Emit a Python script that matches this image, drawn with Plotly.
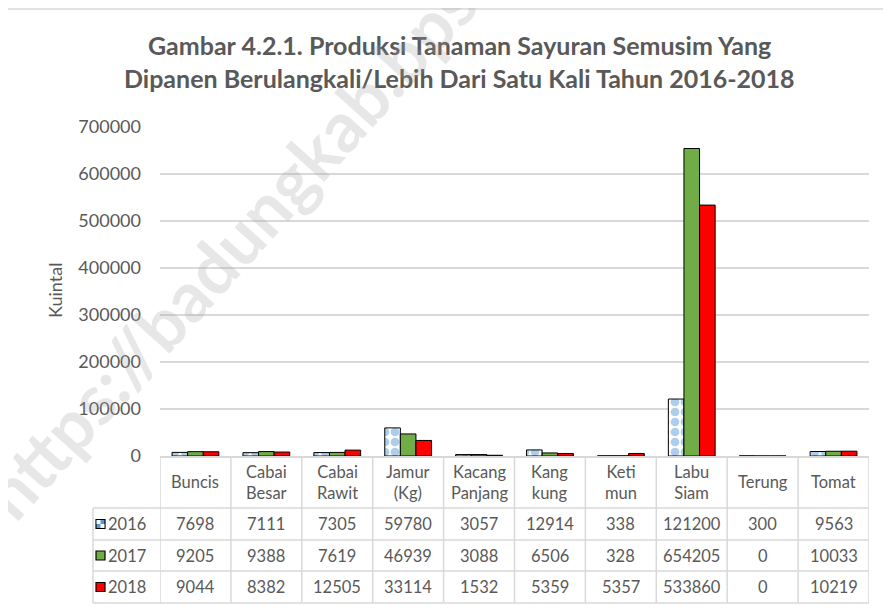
import plotly.graph_objects as go

categories = ["Buncis", "Cabai Besar", "Cabai Rawit", "Jamur (Kg)", "Kacang Panjang",
              "Kang kung", "Keti mun", "Labu Siam", "Terung", "Tomat"]
cat_labels = ["Buncis", "Cabai<br>Besar", "Cabai<br>Rawit", "Jamur<br>(Kg)", "Kacang<br>Panjang",
              "Kang<br>kung", "Keti<br>mun", "Labu<br>Siam", "Terung", "Tomat"]
years = ["2016", "2017", "2018"]
v2016 = [7698, 7111, 7305, 59780, 3057, 12914, 338, 121200, 300, 9563]
v2017 = [9205, 9388, 7619, 46939, 3088, 6506, 328, 654205, 0, 10033]
v2018 = [9044, 8382, 12505, 33114, 1532, 5359, 5357, 533860, 0, 10219]
y_ticks = [0, 100000, 200000, 300000, 400000, 500000, 600000, 700000]

title1 = "Gambar 4.2.1. Produksi Tanaman Sayuran Semusim Yang"
title2 = "Dipanen Berulangkali/Lebih Dari Satu Kali Tahun 2016-2018"
y_title = "Kuintal"
watermark = "https://badungkab.bps.go.id"

FONT = "Lato"
TXT = "#595959"
GRID = "#D9D9D9"

OFF = 8  # page body margin
W, H = 891 - OFF, 611 - OFF
L, R, T, B = 160 - OFF, 22, 127 - OFF, 155
PW, PH = W - L - R, H - T - B


def px(p):
    return (p - OFF - L) / PW


def py(p):
    return (H - B - (p - OFF)) / PH


fig = go.Figure()
fig.add_bar(x=categories, y=v2016, name=years[0],
            marker=dict(color="white", line=dict(color="black", width=1),
                        pattern=dict(shape=".", fgcolor="#5B9BD5", bgcolor="white",
                                     size=10, solidity=0.6)))
fig.add_bar(x=categories, y=v2017, name=years[1],
            marker=dict(color="#70AD47", line=dict(color="black", width=1)))
fig.add_bar(x=categories, y=v2018, name=years[2],
            marker=dict(color="#FF0000", line=dict(color="black", width=1)))

shapes = []
ann = []

# outer border
shapes.append(dict(type="rect", xref="paper", yref="paper",
                   x0=px(5), x1=px(900), y0=py(9), y1=py(620),
                   line=dict(color=GRID, width=1.5), fillcolor="rgba(0,0,0,0)", layer="below"))

# table lines
row_edges = [508, 540, 571, 603]
for r in row_edges:
    shapes.append(dict(type="line", xref="paper", yref="paper",
                       x0=px(93), x1=1, y0=py(r), y1=py(r),
                       line=dict(color=GRID, width=1.5)))
n = len(categories)
for k in range(n + 1):
    xk = k - 0.5
    shapes.append(dict(type="line", xref="x", yref="paper",
                       x0=xk, x1=xk, y0=0, y1=py(603),
                       line=dict(color=GRID, width=1.5)))
shapes.append(dict(type="line", xref="paper", yref="paper",
                   x0=px(93), x1=px(93), y0=py(508), y1=py(603),
                   line=dict(color=GRID, width=1.5)))

TS = 16.5
# category header
for i, lab in enumerate(cat_labels):
    ann.append(dict(x=i, y=py(482), xref="x", yref="paper", text=lab, showarrow=False,
                    xanchor="center", yanchor="middle",
                    font=dict(family=FONT, size=TS, color=TXT), align="center"))

# rows
row_centers = [524, 555.5, 587]
series = [v2016, v2017, v2018]
key_colors = ["#5B9BD5", "#70AD47", "#FF0000"]
for r, (yr, vals, kc, yc) in enumerate(zip(years, series, key_colors, row_centers)):
    for i, v in enumerate(vals):
        ann.append(dict(x=i, y=py(yc), xref="x", yref="paper", text=str(v), showarrow=False,
                        xanchor="center", yanchor="middle",
                        font=dict(family=FONT, size=TS, color=TXT)))
    ann.append(dict(x=px(106), y=py(yc), xref="paper", yref="paper", text=yr, showarrow=False,
                    xanchor="left", yanchor="middle", font=dict(family=FONT, size=TS, color=TXT)))
    shapes.append(dict(type="rect", xref="paper", yref="paper",
                       x0=px(96), x1=px(105), y0=py(yc - 4.5), y1=py(yc + 4.5),
                       fillcolor=kc, line=dict(color="black", width=1.2)))
    if r == 0:
        shapes.append(dict(type="rect", xref="paper", yref="paper",
                           x0=px(96.6), x1=px(100.5), y0=py(yc - 3.9), y1=py(yc),
                           fillcolor="white", line=dict(width=0)))
        shapes.append(dict(type="rect", xref="paper", yref="paper",
                           x0=px(100.5), x1=px(104.4), y0=py(yc), y1=py(yc + 3.9),
                           fillcolor="white", line=dict(width=0)))

# title
ann.append(dict(x=px(459.5), y=py(45), xref="paper", yref="paper", text="<b>" + title1 + "</b>",
                showarrow=False, xanchor="center", yanchor="middle",
                font=dict(family=FONT, size=25, color=TXT)))
ann.append(dict(x=px(459.5), y=py(78), xref="paper", yref="paper", text="<b>" + title2 + "</b>",
                showarrow=False, xanchor="center", yanchor="middle",
                font=dict(family=FONT, size=25, color=TXT)))
# y title
ann.append(dict(x=px(55), y=py(291), xref="paper", yref="paper", text=y_title, showarrow=False,
                xanchor="center", yanchor="middle",
                textangle=-90, font=dict(family=FONT, size=18, color=TXT)))
# watermark
ann.append(dict(x=px(284), y=py(186), xref="paper", yref="paper", text="<b>" + watermark + "</b>",
                showarrow=False, textangle=-48, xanchor="center", yanchor="middle",
                font=dict(family=FONT, size=70, color="rgba(160,160,160,0.25)")))

fig.update_layout(
    width=W, height=H,
    margin=dict(l=L, r=R, t=T, b=B),
    paper_bgcolor="white", plot_bgcolor="white",
    showlegend=False,
    barmode="group", bargap=0.34, bargroupgap=0,
    shapes=shapes, annotations=ann,
    font=dict(family=FONT, color=TXT),
)
fig.update_xaxes(showticklabels=False, showgrid=False, zeroline=False,
                 showline=True, linecolor=GRID, linewidth=1.5, range=[-0.5, n - 0.5])
fig.update_yaxes(range=[0, 700000], tickvals=y_ticks, tickformat="d",
                 showgrid=True, gridcolor=GRID, gridwidth=1.5, zeroline=False,
                 showline=False, ticklabelstandoff=18,
                 tickfont=dict(family=FONT, size=18, color=TXT))

fig.write_html("out.html")
